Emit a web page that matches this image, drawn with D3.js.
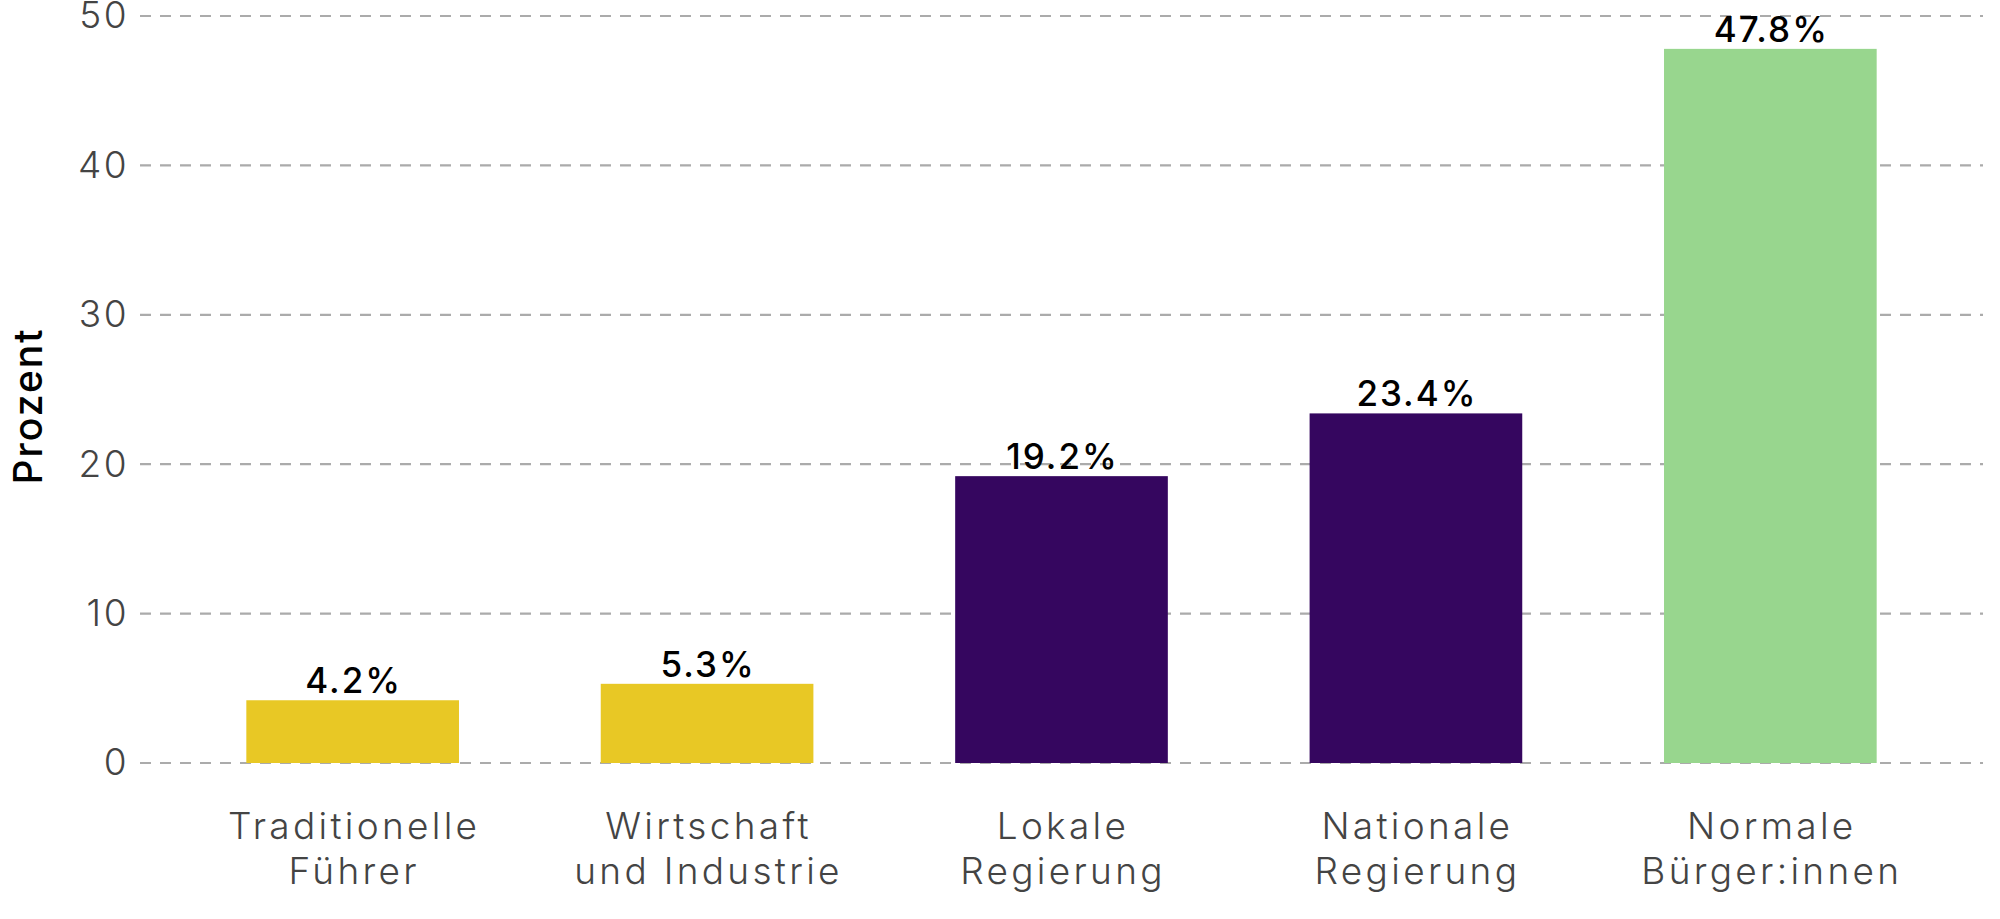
<!DOCTYPE html>
<html>
<head>
<meta charset="utf-8">
<script src="https://cdn.jsdelivr.net/npm/d3@7"></script>
<style>
  body { margin: 0; background: #fff; }
  text { font-family: Inter, "Open Sans", sans-serif; }
</style>
</head>
<body>
<div id="chart"></div>
<script>
// data
var categories = [["Traditionelle", "Führer"], ["Wirtschaft", "und Industrie"], ["Lokale", "Regierung"], ["Nationale", "Regierung"], ["Normale", "Bürger:innen"]];
var values = [4.2, 5.3, 19.2, 23.4, 47.8];
var barColors = ["#e8c825", "#e8c825", "#35065f", "#35065f", "#98d68e"];
var yTicks = [0, 10, 20, 30, 40, 50];

var svgwdth = 2000;
var svghght = 919;

var margin = {top: 16, right: 17, bottom: 156, left: 140};
var width = svgwdth - margin.left - margin.right;
var height = svghght - margin.top - margin.bottom;

var svg = d3.select("#chart")
  .append("svg")
  .attr("width", svgwdth)
  .attr("height", svghght);

var chartGroup = svg.append("g").attr("transform", `translate(${margin.left}, ${margin.top})`);

var keys = categories.map(c => c.join(" "));

var xBand = d3.scaleBand()
  .domain(keys)
  .range([0, width])
  .paddingInner(0.4)
  .paddingOuter(0.3);

var yLinearScale = d3.scaleLinear()
  .domain([0, 50])
  .range([height, 0]);

//gridlines
chartGroup.append("g")
  .selectAll("line")
  .data(yTicks)
  .enter()
  .append("line")
  .attr("x1", 0)
  .attr("x2", width)
  .attr("y1", d => yLinearScale(d))
  .attr("y2", d => yLinearScale(d))
  .attr("stroke", "#ababab")
  .attr("stroke-width", 2.2)
  .attr("stroke-dasharray", "11,9");

//y axis labels
var leftAxis = d3.axisLeft(yLinearScale).tickValues(yTicks).tickSize(0).tickPadding(11);
var yAxis = chartGroup.append("g").call(leftAxis);
yAxis.select(".domain").remove();
yAxis.selectAll("text")
  .attr("font-size", 37)
  .attr("font-weight", 300)
  .attr("letter-spacing", 2.5)
  .attr("fill", "#444")
  .style("font-family", "Inter");

//bars
chartGroup.selectAll("rect")
  .data(values)
  .enter()
  .append("rect")
  .attr("x", (d, i) => xBand(keys[i]))
  .attr("y", d => yLinearScale(d))
  .attr("width", xBand.bandwidth())
  .attr("height", d => height - yLinearScale(d))
  .attr("fill", (d, i) => barColors[i]);

//value labels
chartGroup.selectAll(".val")
  .data(values)
  .enter()
  .append("text")
  .classed("val", true)
  .attr("x", (d, i) => xBand(keys[i]) + xBand.bandwidth() / 2 + 1)
  .attr("y", d => yLinearScale(d) - 7)
  .attr("text-anchor", "middle")
  .attr("font-size", 35)
  .attr("font-weight", 450)
  .attr("letter-spacing", 2)
  .attr("fill", "#000")
  .text(d => d.toFixed(1) + "%");

//category labels
var catGroup = chartGroup.selectAll(".cat")
  .data(categories)
  .enter()
  .append("text")
  .classed("cat", true)
  .attr("x", (d, i) => xBand(keys[i]) + xBand.bandwidth() / 2 + 1.5)
  .attr("y", height + 76)
  .attr("text-anchor", "middle")
  .attr("font-size", 37)
  .attr("font-weight", 300)
  .attr("letter-spacing", 3.3)
  .attr("fill", "#444");

catGroup.selectAll("tspan")
  .data(d => d)
  .enter()
  .append("tspan")
  .attr("x", function() { return d3.select(this.parentNode).attr("x"); })
  .attr("dy", (d, i) => i === 0 ? 0 : 45)
  .text(d => d);

//y axis title
svg.append("text")
  .attr("transform", `translate(42, 406) rotate(-90)`)
  .attr("text-anchor", "middle")
  .attr("font-size", 39)
  .attr("font-weight", 500)
  .attr("letter-spacing", 2)
  .attr("fill", "#000")
  .text("Prozent");
</script>
</body>
</html>
